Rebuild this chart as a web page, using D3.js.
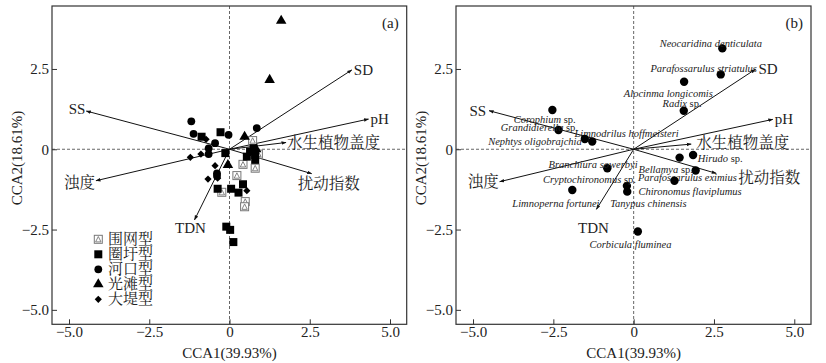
<!DOCTYPE html>
<html><head><meta charset="utf-8">
<script src="https://cdn.jsdelivr.net/npm/d3@7"></script>
<style>
html,body{margin:0;padding:0;background:#fff;}
svg{display:block;}
text{font-family:"Liberation Serif","Times New Roman","Noto Serif CJK SC","Noto Sans CJK SC",serif;fill:#222;}
</style></head>
<body>
<svg id="c" width="826" height="363"></svg>
<script>
// ---------- data ----------
const xTicks = [-5, -2.5, 0, 2.5, 5];
const yTicks = [-5, -2.5, 0, 2.5];
const xTitle = "CCA1(39.93%)";
const yTitle = "CCA2(18.61%)";

const envNames = ["SD", "pH", "水生植物盖度", "扰动指数", "SS", "浊度", "TDN"];
const envA_x = [3.81, 4.33, 1.76, 2.56, -4.46, -4.16, -1.09];
const envA_y = [2.47, 0.94, 0.21, -0.76, 1.19, -0.98, -2.20];
const envB_x = [3.79, 4.33, 1.79, 2.57, -4.50, -4.17, -1.16];
const envB_y = [2.49, 0.93, 0.16, -0.75, 1.20, -1.01, -1.87];

const groupNames = ["围网型", "圈圩型", "河口型", "光滩型", "大堤型"];
const weiwang_x = [0.72, 0.42, 0.23, -0.24, 0.49, 0.47, 0.80, 0.90];
const weiwang_y = [0.27, -0.47, -0.82, -1.34, -1.63, -1.79, -0.59, -0.15];
const quanwei_x = [-0.28, -0.87, -0.13, 0.54, 0.80, 0.80, 0.64, 0.75, -0.37, 0.05, 0.28, 0.42, -0.10, 0.02, 0.12];
const quanwei_y = [0.53, 0.39, -0.12, -0.23, -0.33, -0.18, -0.07, 0.03, -1.23, -1.23, -1.35, -1.09, -2.41, -2.51, -2.89];
const hekou_x = [-1.19, -1.12, -0.45, -0.03, -0.65, -0.65, -0.39, -0.39, 0.85];
const hekou_y = [0.87, 0.48, 0.19, 0.45, 0.03, -0.15, -0.75, -0.83, 0.66];
const guangtan_x = [1.61, 1.25, 0.47, -0.05, 0.83];
const guangtan_y = [4.00, 2.16, 0.39, -0.49, 0.00];
const dadi_x = [-1.22, -0.89, -0.73, -0.45, -0.67, -0.37, 0.54];
const dadi_y = [-0.25, -0.15, 0.31, -0.51, -0.93, -0.90, -1.29];

const speciesGenus = ["Neocaridina denticulata", "Parafossarulus striatulus", "Alocinma longicomis", "Radix", "Corophium", "Grandidierella", "Limnodrilus hoffmeisteri", "Nephtys oligobrajchia", "Hirudo", "Bellamya", "Parafossarulus eximius", "Chironomus flaviplumus", "Branchiura sowerbyi", "Cryptochironomus", "Tanypus chinensis", "Limnoperna fortunei", "Corbicula fluminea"];
const speciesSp = [false, false, false, true, true, true, false, false, true, true, false, false, false, true, false, false, false];
const species_x = [2.76, 2.71, 1.57, 1.56, -2.53, -2.34, -1.29, -1.52, 1.85, 1.43, 1.93, 1.27, -0.82, -0.21, -0.20, -1.91, 0.13];
const species_y = [3.14, 2.33, 2.10, 1.20, 1.22, 0.60, 0.24, 0.32, -0.18, -0.26, -0.66, -0.98, -0.59, -1.14, -1.32, -1.27, -2.56];

// ---------- layout (pixels) ----------
const envLabA = [[2,0,"start"],[2,0,"start"],[1,0,"start"],[-14,10,"start"],[-1,-2,"end"],[-1,2,"end"],[-4,8,"middle"]];
const envLabB = [[3,0,"start"],[2,0,"start"],[5,-2,"start"],[22,4,"start"],[-3,0,"end"],[-1,0,"end"],[-3,19,"middle"]];
const spLab = [[-62.7,-5.6],[-70.3,-6],[-60.3,11],[-21.3,-7.4],[-38.7,9.3],[-57.7,-2.7],[-17.7,-9],[-96.7,1.7],[4.7,3.3],[-41,11.6],[-57.7,6.6],[-36,10],[-58.7,-4.3],[-84,-6.7],[-17,11],[-60,12.7],[-48.3,12.3]];

const FONT = '"Liberation Serif","Times New Roman","Noto Serif CJK SC","Noto Sans CJK SC",serif';
const svg = d3.select("#c").style("font-family", FONT);
const defs = svg.append("defs");
defs.append("marker").attr("id","ah").attr("viewBox","0 0 10 10").attr("refX",9).attr("refY",5)
  .attr("markerWidth",5).attr("markerHeight",5).attr("orient","auto")
  .append("path").attr("d","M0,1.5L10,5L0,8.5Z").attr("fill","#111");

const Y0 = 6, Y1 = 324.3;
const xDom = [-5.53, 5.52], yDom = [-5.45, 4.46];
const fmt = v => v === 0 ? "0" : d3.format(".1f")(v).replace("-", "\u2212");

function txt(g) { return g.append("text").style("font-family", FONT); }

function panel(x0, x1, tag, ex, ey, elab) {
  const g = svg.append("g");
  const x = d3.scaleLinear().domain(xDom).range([x0, x1]);
  const y = d3.scaleLinear().domain(yDom).range([Y1, Y0]);
  // zero lines
  g.append("line").attr("x1", x0).attr("x2", x1).attr("y1", y(0)).attr("y2", y(0))
    .attr("stroke","#555").attr("stroke-width",0.9).attr("stroke-dasharray","3,2");
  g.append("line").attr("x1", x(0)).attr("x2", x(0)).attr("y1", Y0).attr("y2", Y1)
    .attr("stroke","#555").attr("stroke-width",0.9).attr("stroke-dasharray","3,2");
  // axes
  const ax = g.append("g").attr("transform", `translate(0,${Y1})`)
    .call(d3.axisBottom(x).tickValues(xTicks).tickFormat(fmt).tickSize(-5).tickPadding(2));
  const ay = g.append("g").attr("transform", `translate(${x0},0)`)
    .call(d3.axisLeft(y).tickValues(yTicks).tickFormat(fmt).tickSize(-5).tickPadding(3));
  [ax, ay].forEach(a => {
    a.attr("font-family", null);
    a.select(".domain").remove();
    a.selectAll("line").attr("stroke","#333");
    a.selectAll("text").attr("font-size",15).style("font-family", FONT).attr("fill","#222");
  });
  g.append("rect").attr("x", x0).attr("y", Y0).attr("width", x1 - x0).attr("height", Y1 - Y0)
    .attr("fill","none").attr("stroke","#333").attr("stroke-width",1.2);
  // titles
  txt(g).attr("x", x(0)).attr("y", 357.5).attr("text-anchor","middle").attr("font-size",15).text(xTitle);
  txt(g).attr("transform", `translate(${x0 - 35},158) rotate(-90)`).attr("text-anchor","middle")
    .attr("dominant-baseline","central").attr("font-size",15).text(yTitle);
  txt(g).attr("x", x1 - 8).attr("y", 22.7).attr("text-anchor","end").attr("dominant-baseline","central")
    .attr("font-size",15).text(tag);
  // vectors
  envNames.forEach((n, i) => {
    g.append("line").attr("x1", x(0)).attr("y1", y(0)).attr("x2", x(ex[i])).attr("y2", y(ey[i]))
      .attr("stroke","#111").attr("stroke-width",1).attr("marker-end","url(#ah)");
    const L = elab[i];
    txt(g).attr("x", x(ex[i]) + L[0]).attr("y", y(ey[i]) + L[1]).attr("text-anchor", L[2])
      .attr("dominant-baseline","central").attr("font-size", /[A-Za-z]/.test(n) ? 15 : 15.5).text(n);
  });
  return {g, x, y};
}

// symbols
function drawSym(g, type, cx, cy) {
  if (type === 0) {
    g.append("rect").attr("x", cx - 4).attr("y", cy - 4).attr("width", 8).attr("height", 8)
      .attr("fill","#fff").attr("stroke","#777").attr("stroke-width",1);
    g.append("path").attr("d", `M${cx},${cy-2.8}L${cx+2.7},${cy+2.6}L${cx-2.7},${cy+2.6}Z`)
      .attr("fill","none").attr("stroke","#777").attr("stroke-width",0.9);
  } else if (type === 1) {
    g.append("rect").attr("x", cx - 4).attr("y", cy - 4).attr("width", 8).attr("height", 8).attr("fill","#000");
  } else if (type === 2) {
    g.append("circle").attr("cx", cx).attr("cy", cy).attr("r", 3.9).attr("fill","#000");
  } else if (type === 3) {
    g.append("path").attr("transform", `translate(${cx},${cy})`)
      .attr("d", d3.symbol().type(d3.symbolTriangle).size(48)()).attr("fill","#000");
  } else {
    g.append("path").attr("d", `M${cx},${cy-3.6}L${cx+3.6},${cy}L${cx},${cy+3.6}L${cx-3.6},${cy}Z`).attr("fill","#000");
  }
}

// ---------- panel a ----------
const A = panel(52, 406.7, "(a)", envA_x, envA_y, envLabA);
const groups = [[weiwang_x, weiwang_y], [quanwei_x, quanwei_y], [hekou_x, hekou_y], [guangtan_x, guangtan_y], [dadi_x, dadi_y]];
const pg = A.g.append("g");
groups.forEach((gr, t) => {
  gr[0].forEach((vx, i) => drawSym(pg, t, A.x(vx), A.y(gr[1][i])));
});
// legend
groupNames.forEach((n, i) => {
  const cy = 239.3 + i * 15;
  drawSym(A.g, i, 98.3, cy);
  txt(A.g).attr("x", 108).attr("y", cy).attr("dominant-baseline","central").attr("font-size",15).text(n);
});

// ---------- panel b ----------
const B = panel(456, 811, "(b)", envB_x, envB_y, envLabB);
speciesGenus.forEach((n, i) => {
  const cx = B.x(species_x[i]), cy = B.y(species_y[i]);
  B.g.append("circle").attr("cx", cx).attr("cy", cy).attr("r", 4.2).attr("fill","#000");
  const t = txt(B.g).attr("x", cx + spLab[i][0]).attr("y", cy + spLab[i][1])
    .attr("dominant-baseline","central").attr("font-size",10.5).attr("fill","#333");
  t.append("tspan").attr("font-style","italic").text(n);
  if (speciesSp[i]) t.append("tspan").text(" sp.");
});
</script>
</body></html>
